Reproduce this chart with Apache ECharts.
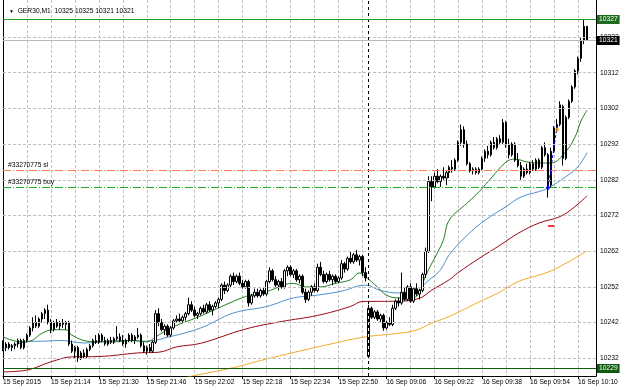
<!DOCTYPE html>
<html>
<head>
<meta charset="utf-8">
<script src="https://cdn.jsdelivr.net/npm/echarts@6/dist/echarts.min.js"></script>
<style>
html, body { margin: 0; padding: 0; background: #fff; }
#chart { width: 625px; height: 390px; }
</style>
</head>
<body>
<div id="chart"></div>
<script>
// ---- data ----
var symbolName = 'GER30,M1';
var lastQuote = [10325, 10325, 10321, 10321];

var timeLabels = ['15 Sep 2015', '15 Sep 21:14', '15 Sep 21:30', '15 Sep 21:46', '15 Sep 22:02',
    '15 Sep 22:18', '15 Sep 22:34', '15 Sep 22:50', '16 Sep 09:06', '16 Sep 09:22',
    '16 Sep 09:38', '16 Sep 09:54', '16 Sep 10:10'];
var labelStep = 16;   // bars between time labels
var gridStep = 8;     // bars between vertical grid lines
var slotCount = 199;  // bar slots incl. chart shift on the right

var priceTicks = [10232, 10242, 10252, 10262, 10272, 10282, 10292, 10302, 10312, 10322];

var dayHigh = 10326.9;
var dayLow = 10229.14;
var bidPrice = 10321.02;
var orderName = '#33270775';
var slPrice = 10284.6;
var buyPrice = 10279.84;
var separatorIndex = 122;
var tradePath = [[182, 10279.8], [185, 10297]];
var tradeOpen = [[182, 10279.8]];
var tradeClose = [[185, 10296]];
var slMark = [[182, 10269], [184, 10269]];

// [open, high, low, close]
var bars = [
    [10235.5,10237,10234,10235],[10235,10236.5,10234,10236],[10236,10236.5,10234.5,10235],[10235,10236,10234,10235.5],
    [10235.5,10236.5,10234.5,10236],[10236,10237.5,10235,10237],[10237,10237.5,10234.5,10235],[10235,10237.5,10234.5,10237],
    [10237,10239,10236.5,10238.5],[10238.5,10241,10238,10240.5],[10240.5,10243.5,10239.5,10242],[10242,10244,10240.5,10241],
    [10241,10243.5,10240.5,10243],[10243,10245,10242,10244.5],[10244.5,10246,10243,10245.5],[10245.5,10247,10241.5,10242],
    [10242,10243,10239,10240],[10240,10242.5,10239.5,10242],[10242,10243,10240.5,10241],[10241,10242.5,10240,10242],
    [10242,10243,10240.5,10241.5],[10241.5,10242.5,10240,10242],[10242,10242.5,10235.5,10236],[10236,10237,10233.5,10234],
    [10234,10235.5,10232,10235],[10235,10235.5,10231,10232],[10232,10234,10231.5,10233.5],[10233.5,10234.5,10232,10232.5],
    [10232.5,10235,10232,10234.5],[10234.5,10236,10234,10235.5],[10235.5,10237.5,10235,10237],[10237,10238.5,10236,10236.5],
    [10236.5,10239,10236,10238.5],[10238.5,10239,10236.5,10237],[10237,10238,10235.5,10236],[10236,10237.5,10235.5,10237],
    [10237,10238,10236,10236.5],[10236.5,10238,10236,10237.5],[10237.5,10241,10237,10238],[10238,10239,10236.5,10237],
    [10237,10238.5,10235.5,10236],[10236,10237.5,10235,10237],[10237,10239,10236.5,10238.5],[10238.5,10239,10236.5,10237],
    [10237,10238.5,10236,10238],[10238,10240.5,10237.5,10238.5],[10238.5,10239,10235,10235.5],[10235.5,10236.5,10233.5,10234],
    [10234,10235.5,10233,10235],[10235,10236,10233.5,10234],[10234,10237,10233.5,10236.5],[10236.5,10245.5,10236,10244.5],
    [10244.5,10246,10241,10242],[10242,10243,10239.5,10240],[10240,10241.5,10238.5,10241],[10241,10241.5,10238,10238.5],
    [10238.5,10241,10238,10240.5],[10240.5,10243,10240,10242.5],[10242.5,10244,10242,10243],[10243,10244.5,10242,10242.5],
    [10242.5,10244,10242,10243.5],[10243.5,10245,10242.5,10244.5],[10244.5,10249,10244,10247],[10247,10248,10245,10245.5],
    [10245.5,10246.5,10243.5,10244],[10244,10245,10243,10244.5],[10244.5,10246.5,10244,10246],[10246,10247,10244.5,10245],
    [10245,10247.5,10244.5,10247],[10247,10248,10245,10245.5],[10245.5,10247,10244,10246.5],[10246.5,10248,10246,10247.5],
    [10247.5,10249,10246,10248.5],[10248.5,10253,10248,10252.5],[10252.5,10253.5,10250,10251],[10251,10253,10250.5,10252.5],
    [10252.5,10255.5,10252,10255],[10255,10256,10252.5,10253.5],[10253.5,10255.5,10253,10255],[10255,10256,10252.5,10253],
    [10253,10254,10251.5,10252],[10252,10254,10251.5,10253.5],[10253.5,10254,10246.5,10247.5],[10247.5,10250,10247,10249.5],
    [10249.5,10251.5,10249,10250.5],[10250.5,10251.5,10249,10249.5],[10249.5,10251.5,10249,10251],[10251,10252,10249.5,10250],
    [10250,10254,10249.5,10253.5],[10253.5,10257.5,10253,10256.5],[10256.5,10257,10253.5,10254],[10254,10255,10252,10252.5],
    [10252.5,10254,10251,10253.5],[10253.5,10254.5,10251.5,10252],[10252,10257,10251.5,10256.5],[10256.5,10258,10255,10257.5],
    [10257.5,10258,10255,10255.5],[10255.5,10257,10254.5,10256.5],[10256.5,10257,10253.5,10254],[10254,10255.5,10253,10255],
    [10255,10255.5,10250,10250.5],[10250.5,10251.5,10247.5,10248.5],[10248.5,10251,10248,10250.5],[10250.5,10252.5,10249.5,10252],
    [10252,10253,10250.5,10251],[10251,10258.5,10250.5,10257.5],[10257.5,10259,10255,10255.5],[10255.5,10256.5,10253,10253.5],
    [10253.5,10256,10253,10255.5],[10255.5,10256.5,10253.5,10254],[10254,10255.5,10252.5,10255],[10255,10255.5,10253,10253.5],
    [10253.5,10255,10253,10254.5],[10254.5,10259.5,10254,10258.5],[10258.5,10259,10256,10257],[10257,10260.5,10256.5,10260],
    [10260,10262,10258.5,10259],[10259,10261.5,10258.5,10261],[10261,10262.3,10259,10259.5],[10259.5,10261,10258,10260.5],
    [10260.5,10261,10255,10256],[10256,10257.5,10253.5,10254.5],[10232.5,10247,10232,10246],[10246,10246.5,10243,10243.5],
    [10243.5,10245.5,10243,10245],[10245,10245.5,10242.5,10243],[10243,10244.5,10242,10244],[10244,10244.5,10239.7,10240.5],
    [10240.5,10242.5,10240,10242],[10242,10243.5,10241,10241.5],[10241.5,10247,10241,10246],[10246,10248.5,10245.5,10248],
    [10248,10249,10246.5,10247.5],[10247.5,10256,10247,10250.5],[10250.5,10252,10248,10248.5],[10248.5,10252.5,10248,10252],
    [10252,10253,10247.5,10248],[10248,10252,10247.5,10251.5],[10251.5,10253,10249.5,10250],[10250,10251.5,10248.5,10251],
    [10251,10256,10250.5,10255.5],[10255.5,10263,10254.5,10262],[10262,10283,10261.5,10281.5],[10281.5,10283,10276,10280],
    [10280,10284,10279.5,10283],[10283,10285,10281,10281.5],[10281.5,10283.5,10280,10283],[10283,10285.5,10282,10282.5],
    [10282.5,10284.5,10280.5,10284],[10284,10286,10282.5,10285.5],[10285.5,10287.5,10284,10285],[10285,10288,10284.5,10287.5],
    [10287.5,10293,10287,10292.5],[10292.5,10297.5,10291.5,10296],[10296,10297,10291,10292],[10292,10293,10286,10286.5],
    [10286.5,10287,10284,10284.5],[10284.5,10285.5,10283.5,10285],[10285,10285.5,10283.5,10284],[10284,10285.5,10283.5,10285],
    [10285,10288.5,10284.5,10288],[10288,10290.5,10287,10290],[10290,10291.5,10288,10289],[10289,10293,10288.5,10292.5],
    [10292.5,10294,10290.5,10291],[10291,10294,10290.5,10293.5],[10293.5,10294.5,10292,10292.5],[10292.5,10299,10292,10298],
    [10298,10298.5,10291,10292],[10292,10293.5,10288,10289],[10289,10292.5,10288.5,10292],[10292,10292.5,10287,10287.5],
    [10287.5,10289.5,10285.5,10286],[10286,10287,10282,10283],[10283,10285.5,10282.5,10285],[10285,10286.5,10283.5,10284],
    [10284,10287,10283.5,10286.5],[10286.5,10287.5,10284.5,10285],[10285,10288,10284.5,10287.5],[10287.5,10288,10285,10285.5],
    [10285.5,10291.5,10285,10291],[10291,10292.5,10288.5,10289],[10289,10289.5,10277,10280.5],[10280.5,10291,10280,10290],
    [10290,10297,10289.5,10296.5],[10296.5,10299,10295.5,10297.5],[10297.5,10304,10297,10303],[10302.5,10303,10286,10288],
    [10288,10300,10287.5,10299.5],[10299.5,10304.5,10299,10304],[10304,10308.5,10303.5,10308],[10308,10313,10307.5,10312.5],
    [10312.5,10316.5,10311.5,10316],[10316,10322,10315,10321],[10321,10327,10320,10325],[10325,10325,10321,10321]
];

// moving averages, read at sample bars: [bar index, price]
var maFast = [[0,10238],[6,10236.6],[9,10236.8],[13,10239],[17,10240],[21,10240],[23,10238.5],[28,10236.8],
    [32,10236.6],[37,10236.6],[43,10237],[48,10236.6],[51,10238],[56,10240.5],[65,10243.5],[73,10246.5],
    [81,10249.3],[88,10250.7],[97,10253],[101,10252],[106,10252],[111,10253],[116,10254],[119,10255.9],
    [121,10254.9],[125,10252],[128,10249.7],[132,10248.9],[137,10249],[139,10250.3],[141,10254.9],[145,10261.5],
    [147,10265],[149,10270.7],[155,10275.5],[159,10278.7],[163,10282.5],[168,10287],[171,10287.8],[175,10287],
    [179,10286.7],[183,10286.7],[188,10290],[191,10294],[193,10298.5],[195,10301.5]];
var maMid = [[0,10234.6],[9,10236.7],[14,10236.8],[19,10237],[27,10236.3],[35,10236.8],[41,10237],[48,10236.8],
    [55,10237.9],[66,10240.5],[77,10244.7],[88,10246.5],[97,10248.9],[105,10249.7],[113,10250.8],[121,10252.5],
    [126,10251],[132,10250.3],[138,10250.3],[141,10253],[146,10256.7],[149,10261],[155,10266.5],[161,10270.7],
    [168,10274.5],[173,10277.2],[179,10278.7],[182,10279.7],[188,10282.9],[192,10285.7],[195,10289.6]];
var maSlow = [[0,10228.2],[8,10228.7],[16,10231],[23,10232.4],[32,10232.5],[45,10233.5],[52,10233.7],[58,10235.2],
    [66,10236.2],[81,10240.2],[93,10242.3],[105,10244],[116,10246.5],[120,10247.9],[132,10248],[139,10248.8],
    [143,10251],[149,10254],[152,10256],[159,10260],[166,10263.7],[172,10267],[179,10269.9],[186,10271.7],
    [191,10274.5],[195,10277.5]];
var maLong = [[55,10225.5],[63,10227],[77,10229.4],[88,10231.8],[99,10234],[110,10236.1],[121,10238],[132,10239],
    [138,10239.9],[143,10241.8],[149,10243.7],[159,10247.8],[166,10250.6],[172,10253.5],[179,10255.3],
    [183,10256.5],[189,10259.1],[195,10262.1]];

// ---- chart ----
var font = '"Liberation Sans", Arial, sans-serif';
var fs = 6.7;
var yMin = 10227.04, yMax = 10332.36;

var categories = [];
for (var i = 0; i < slotCount; i++) categories.push(String(i));
var candleData = bars.map(function (b) { return [b[0], b[3], b[2], b[1]]; });

var gridLines = priceTicks.map(function (v) {
    return {
        yAxis: v,
        label: { show: true, position: 'end', distance: 4, formatter: '{c}', color: '#000', fontSize: fs, fontFamily: font }
    };
});

// one helper series per horizontal level
function levelSeries(name, value, color, dash, label, z) {
    return {
        name: name, type: 'line', data: [], z: z || 2, silent: true, color: color,
        markLine: {
            silent: true, symbol: 'none', animation: false,
            lineStyle: { color: color, type: dash, width: 1, opacity: 1 },
            label: label,
            data: [{ yAxis: value }]
        }
    };
}

function boxLabel(bg) {
    return {
        show: true, position: 'end', distance: 1,
        formatter: function (p) { return String(Math.round(p.value)); },
        color: '#fff', backgroundColor: bg, padding: [1, 2, 0, 2], lineHeight: 8,
        fontSize: fs, fontFamily: font
    };
}

function orderLabel(text) {
    return {
        show: true, position: 'insideStartTop', distance: [5, 2], formatter: text,
        color: '#000', fontSize: fs, fontFamily: font
    };
}

function maSeries(name, data, color) {
    return {
        name: name, type: 'line', data: data, z: 3, showSymbol: false, smooth: 0.4, color: color,
        lineStyle: { color: color, width: 1 }
    };
}

var option = {
    animation: false,
    backgroundColor: '#fff',
    title: {
        text: '{t|▼}  ' + symbolName + '  ' + lastQuote.join(' '),
        left: 4, top: 3,
        textStyle: {
            fontSize: fs, fontFamily: font, fontWeight: 'normal', color: '#000',
            rich: { t: { fontSize: 5, fontFamily: font, color: '#000' } }
        }
    },
    grid: { left: 2.5, right: 29, top: 0, bottom: 14 },
    xAxis: {
        type: 'category',
        data: categories,
        boundaryGap: false,
        axisLine: { lineStyle: { color: '#000', width: 1 } },
        axisTick: { show: true, interval: labelStep - 1, length: 3, lineStyle: { color: '#000' } },
        axisLabel: {
            interval: labelStep - 1, align: 'left', margin: 3,
            color: '#000', fontSize: fs, fontFamily: font,
            formatter: function (v, idx) { return timeLabels[idx / labelStep] || ''; }
        },
        splitLine: { show: true, interval: gridStep - 1, lineStyle: { color: '#c0c0c0', type: [3, 2] } }
    },
    yAxis: [{
        type: 'value', position: 'right', min: yMin, max: yMax, scale: true,
        axisLine: { show: true, lineStyle: { color: '#000' } },
        axisTick: { show: false }, axisLabel: { show: false }, splitLine: { show: false }
    }, {
        type: 'value', position: 'left', min: yMin, max: yMax, scale: true,
        axisLine: { show: true, lineStyle: { color: '#000' } },
        axisTick: { show: false }, axisLabel: { show: false }, splitLine: { show: false }
    }],
    series: [{
        name: 'grid', type: 'line', data: [], z: 1, silent: true, color: '#c0c0c0',
        markLine: {
            silent: true, symbol: 'none', animation: false,
            lineStyle: { color: '#c0c0c0', type: [3, 2], width: 1 },
            data: gridLines
        }
    }, {
        name: 'separator', type: 'line', data: [], z: 1, silent: true, color: '#000',
        markLine: {
            silent: true, symbol: 'none', animation: false,
            lineStyle: { color: '#000', type: [3, 3], width: 1 },
            label: { show: false },
            data: [{ xAxis: separatorIndex }]
        }
    },
    levelSeries('sl', slPrice, '#ff7f50', [8, 2, 1, 2], orderLabel(orderName + ' sl')),
    levelSeries('buy', buyPrice, '#22aa22', [8, 2, 1, 2], orderLabel(orderName + ' buy')),
    levelSeries('high', dayHigh, '#1e9e1e', 'solid', boxLabel('#1d6b1d')),
    levelSeries('bid', bidPrice, '#b8b8b8', 'solid', boxLabel('#000')),
    levelSeries('low', dayLow, '#0a600a', 'solid', boxLabel('#0f5a0f')),
    maSeries('MA long', maLong, '#f0aa28'),
    maSeries('MA slow', maSlow, '#9a0a14'),
    maSeries('MA mid', maMid, '#4f8fd0'),
    maSeries('MA fast', maFast, '#1f7f1f'),
    {
        name: symbolName, type: 'candlestick', data: candleData, z: 4, barWidth: 2,
        itemStyle: { color: '#fff', color0: '#000', borderColor: '#000', borderColor0: '#000', borderWidth: 1 }
    }, {
        name: 'trade', type: 'line', data: [], z: 5, silent: true, color: '#0000ff',
        markLine: {
            silent: true, symbol: 'none', animation: false,
            lineStyle: { color: '#0000ff', type: [3, 2], width: 1 },
            label: { show: false },
            data: [[{ coord: tradePath[0] }, { coord: tradePath[1] }]]
        }
    }, {
        name: 'sl mark', type: 'line', data: [], z: 5, silent: true, color: '#ff3030',
        markLine: {
            silent: true, symbol: 'none', animation: false,
            lineStyle: { color: '#ff3030', type: 'solid', width: 2 },
            label: { show: false },
            data: [[{ coord: slMark[0] }, { coord: slMark[1] }]]
        }
    }, {
        name: 'open', type: 'scatter', data: tradeOpen, z: 6, symbol: 'diamond', symbolSize: 5,
        itemStyle: { color: '#0000ff' }
    }, {
        name: 'close', type: 'scatter', data: tradeClose, z: 6, symbol: 'diamond', symbolSize: 5,
        itemStyle: { color: '#e8a000' }
    }]
};

var chart = echarts.init(document.getElementById('chart'));
chart.setOption(option);
</script>
</body>
</html>
